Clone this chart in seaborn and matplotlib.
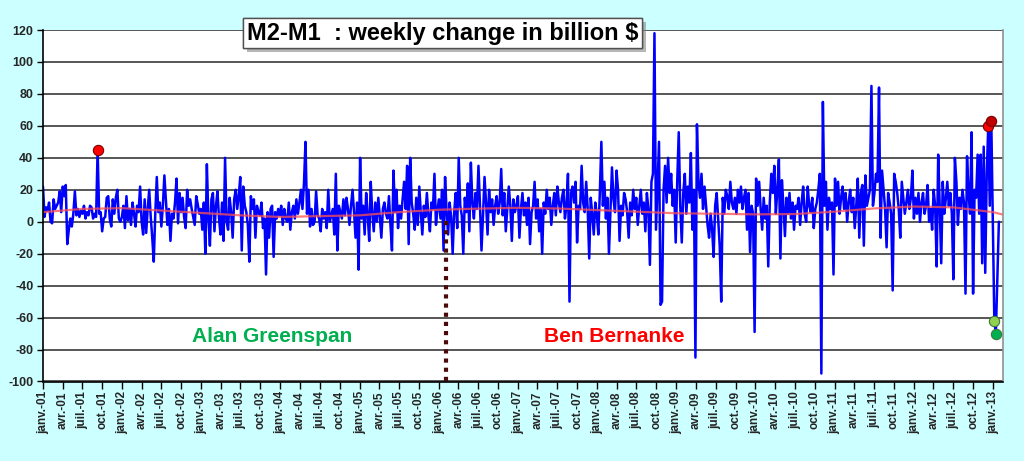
import numpy as np
import pandas as pd
import matplotlib
matplotlib.use('Agg')
import matplotlib.pyplot as plt
import matplotlib.patheffects as pe
import seaborn as sns

# M2-M1 weekly change (billion $), one list per year, 52 weeks each
y2001 = [22, 3, 9, 7, 12, 0, -1, 14, 8, 10, 12, 19, 6, 22, 16, 23, -14, -5, 2, -3,
         5, 19, 4, 8, 3, 7, 5, 10, 2, 6, 4, 10, 9, 2, 5, 3, 45, 5, 6, -6,
         2, 3, 15, 16, 2, -3, 14, 5, 15, 20, 2, 0]
y2002 = [3, 10, -4, 16, 1, 8, -2, 12, 5, -3, 10, 6, 22, 0, -8, 14, -7, 8, 20, 3,
         -10, -25, 5, 28, 6, 12, -3, 10, 29, 14, -2, 8, -12, 5, 2, 12, 27, -1, 18, 6,
         15, 3, -4, 20, 10, 14, 8, 3, -2, 16, 11, 5]
y2003 = [8, -5, 12, -20, 36, 2, -15, 14, 18, -6, 10, 19, 2, -8, 12, -12, 40, 0, -5, 15,
         6, -10, 14, 20, 8, 16, 28, -18, 22, 10, 6, -2, -25, 16, 8, 14, -10, 10, 6, 4,
         12, -4, 2, -33, 6, -10, 8, 10, -22, 6, 2, 8]
y2004 = [4, 10, -2, 8, 2, 0, 12, -5, 6, 10, 2, 14, 5, 12, 20, 8, 24, 50, 5, 20,
         -3, 8, -2, 0, 19, 4, 2, -6, 8, 2, 6, -4, 20, 0, 4, 8, -8, 30, -18, 10,
         6, 2, 14, 4, 15, 8, -2, 10, 20, 6, -10, 12]
y2005 = [-30, 40, 2, 10, -8, 18, 4, -12, 25, 6, -6, 12, 0, 15, 3, -10, 8, 12, 5, 2,
         16, -2, -18, 32, 6, 20, -4, 10, 2, 14, 25, 8, 35, -14, 40, 12, 5, -5, 15, -2,
         22, 6, -8, 10, 3, 18, 4, -6, 12, 8, 30, -2]
y2006 = [8, 14, 2, 20, -18, 28, 6, -8, 12, 3, -20, 6, 18, -4, 40, 10, 4, -20, 15, 6,
         24, -6, 37, 12, 2, 18, 8, 35, 10, -18, 4, 28, 12, -8, 20, 6, 14, -2, 10, 16,
         5, 12, 33, 4, 18, -6, 8, 22, 10, -12, 14, 6]
y2007 = [10, 16, -10, 8, 18, 4, 12, -2, 15, -14, 6, 10, 25, 2, 14, -6, 8, -20, 12, 5,
         20, 8, 15, -2, 10, 18, 4, 22, 12, 6, 15, 20, 2, 10, 30, -50, 18, 22, 12, 25,
         -13, 10, 8, 35, 12, 6, 25, 8, -23, 15, 5, -8]
y2008 = [12, 5, -8, 18, 50, 10, 25, 2, 15, -20, 8, 34, 14, 6, 32, 20, -12, 10, 4, 18,
         14, 6, -10, 12, 4, 20, 8, 15, -2, 10, 20, 5, 12, -6, 18, 8, -27, 25, 30, 118,
         -5, 22, 50, -52, -50, 20, 35, 12, 40, 18, 30, 10]
y2009 = [20, -13, 25, 56, 10, -13, 18, 30, 5, 22, 12, 43, -5, 20, -85, 61, 25, 15, 30, 8,
         22, 10, -2, -10, 5, -5, -22, 10, 18, 2, -15, -50, 15, 5, 20, 16, 8, 25, 12, 8,
         15, 5, 20, 12, 22, 8, 15, 20, -5, 18, -19, 10]
y2010 = [5, -69, 27, 10, 25, 8, -5, 15, 2, 10, -28, 12, 30, 18, 35, 5, 20, 39, -23, 26,
         10, -9, 15, 5, 18, 2, 12, -5, 10, 8, 15, -2, 12, 22, 5, 0, 22, 10, 6, 15,
         -4, 8, 12, 20, 30, -95, 75, 10, 25, -5, 15, 8]
y2011 = [12, -33, 27, 10, 25, 5, 15, 22, 8, 18, 0, 12, 20, 6, 15, -4, 10, 27, -10, 18,
         23, -15, 29, 10, 15, 20, 85, 10, 18, 30, 25, 84, -10, 32, 20, 8, -16, 18, 12, 5,
         -43, 30, 25, 18, 8, -10, 25, 15, 5, 12, 20, 8]
y2012 = [15, 32, 2, 15, 5, 18, 0, 12, 18, 5, 10, 23, 0, 8, -5, 20, 10, -28, 42, 10,
         -26, 25, 5, 14, 25, 10, 18, 5, -36, 40, 25, -2, 15, 8, 20, 12, -45, 41, 18, 5,
         56, -45, 20, 15, 42, 5, 42, -26, 47, -32, 30, 60]
y2013 = [10, 63, 0, -62, -70, -35, 0]

# smooth red trend, half-year points
trend_dates = ['2001-01-01', '2001-07-01', '2002-01-01', '2002-07-01', '2003-01-01',
               '2003-07-01', '2004-01-01', '2004-07-01', '2005-01-01', '2005-07-01',
               '2006-01-01', '2006-07-01', '2007-01-01', '2007-07-01', '2008-01-01',
               '2008-07-01', '2009-01-01', '2009-07-01', '2010-01-01', '2010-07-01',
               '2011-01-01', '2011-07-01', '2012-01-01', '2012-07-01', '2013-01-01',
               '2013-02-15']
trend_values = [6, 8, 8.5, 7, 5.5, 4, 3, 3.5, 4, 6, 7.5, 8.2, 8.7, 8.3, 7.3,
                6.3, 5.3, 5, 4.6, 4.8, 6.3, 8.3, 9.5, 9, 6, 4.5]

# highlighted weeks (index in weekly series) and their colours
marker_idx = [36, 623, 625, 627, 628]
marker_colors = ['#FF0000', '#FF0000', '#C00000', '#92D050', '#00B050']
marker_edges = ['#7A0000', '#7A0000', '#7A0000', '#3A7A3A', '#3A7A3A']

tick_months = ['janv.', 'avr.', 'juil.', 'oct.']
tick_labels = [f'{m}-{yy:02d}' for yy in range(1, 13) for m in tick_months] + ['janv.-13']

values = (y2001 + y2002 + y2003 + y2004 + y2005 + y2006 + y2007 + y2008 + y2009
          + y2010 + y2011 + y2012 + y2013)
df = pd.DataFrame({'date': pd.date_range('2001-01-01', periods=len(values), freq='7D'),
                   'value': values})

sns.set_style('white')
plt.rcParams['font.family'] = ['Liberation Sans', 'DejaVu Sans']
plt.rcParams['axes.unicode_minus'] = False

bg = '#CCFFFF'
fig = plt.figure(figsize=(10.24, 4.61), dpi=100, facecolor=bg)
ax = fig.add_axes([43 / 1024, 1 - 381.5 / 461, 960 / 1024, 351.5 / 461])
ax.set_facecolor('white')

sns.lineplot(data=df, x='date', y='value', ax=ax, color='#0000FF', lw=1.8,
             estimator=None, sort=False)
ax.plot(pd.to_datetime(trend_dates), trend_values, color='#FF5050', lw=1.6, alpha=0.75)

# Bernanke takes office
ax.plot(pd.to_datetime(['2006-02-01', '2006-02-01']), [-100, 3], color='#4A0A0A',
        lw=3, ls=(0, (1, 1.2)))

for i, c, ec in zip(marker_idx, marker_colors, marker_edges):
    ax.scatter(df['date'].iloc[i], df['value'].iloc[i], s=55, color=c,
               edgecolor=ec, lw=0.8, zorder=5)

ax.set_ylim(-100, 120)
ax.set_xlim(pd.Timestamp('2001-01-01'), pd.Timestamp('2013-02-16'))
ax.set_yticks(range(-100, 121, 20))
ax.yaxis.grid(True, color='#3A3A3A', lw=1.2)
ax.set_axisbelow(True)

ax.set_xticks(pd.date_range('2001-01-01', '2013-01-01', freq='QS'))
ax.set_xticklabels(tick_labels, rotation=90, fontsize=8.5, fontweight='bold')
for lab in ax.get_yticklabels():
    lab.set_fontweight('bold')
    lab.set_fontsize(9)
ax.tick_params(axis='x', direction='out', length=5, width=1, color='black', bottom=True, pad=2)
ax.tick_params(axis='y', direction='out', length=4, width=1, color='black', left=True, pad=3)
ax.set_xlabel('')
ax.set_ylabel('')

for s in ['left', 'bottom']:
    ax.spines[s].set_color('black')
    ax.spines[s].set_linewidth(1.2)
ax.spines['top'].set_visible(False)
ax.spines['right'].set_color('#909090')
ax.spines['right'].set_linewidth(1.2)

ax.text(pd.Timestamp('2002-11-20'), -72, 'Alan Greenspan', color='#00B050',
        fontsize=15, fontweight='bold', va='center', ha='left')
ax.text(pd.Timestamp('2007-05-01'), -72, 'Ben Bernanke', color='#FF0000',
        fontsize=15, fontweight='bold', va='center', ha='left')

title = fig.text(0.432, 0.928, 'M2-M1  : weekly change in billion $', ha='center', va='center',
                 fontsize=17, fontweight='bold', color='black',
                 bbox=dict(boxstyle='square,pad=0.15', fc='white', ec='#505050', lw=1))
title.get_bbox_patch().set_path_effects([
    pe.withSimplePatchShadow(offset=(3, -3), shadow_rgbFace='#888888', alpha=0.6),
    pe.Normal()])

fig.savefig('out.png', dpi=100, facecolor=bg)
